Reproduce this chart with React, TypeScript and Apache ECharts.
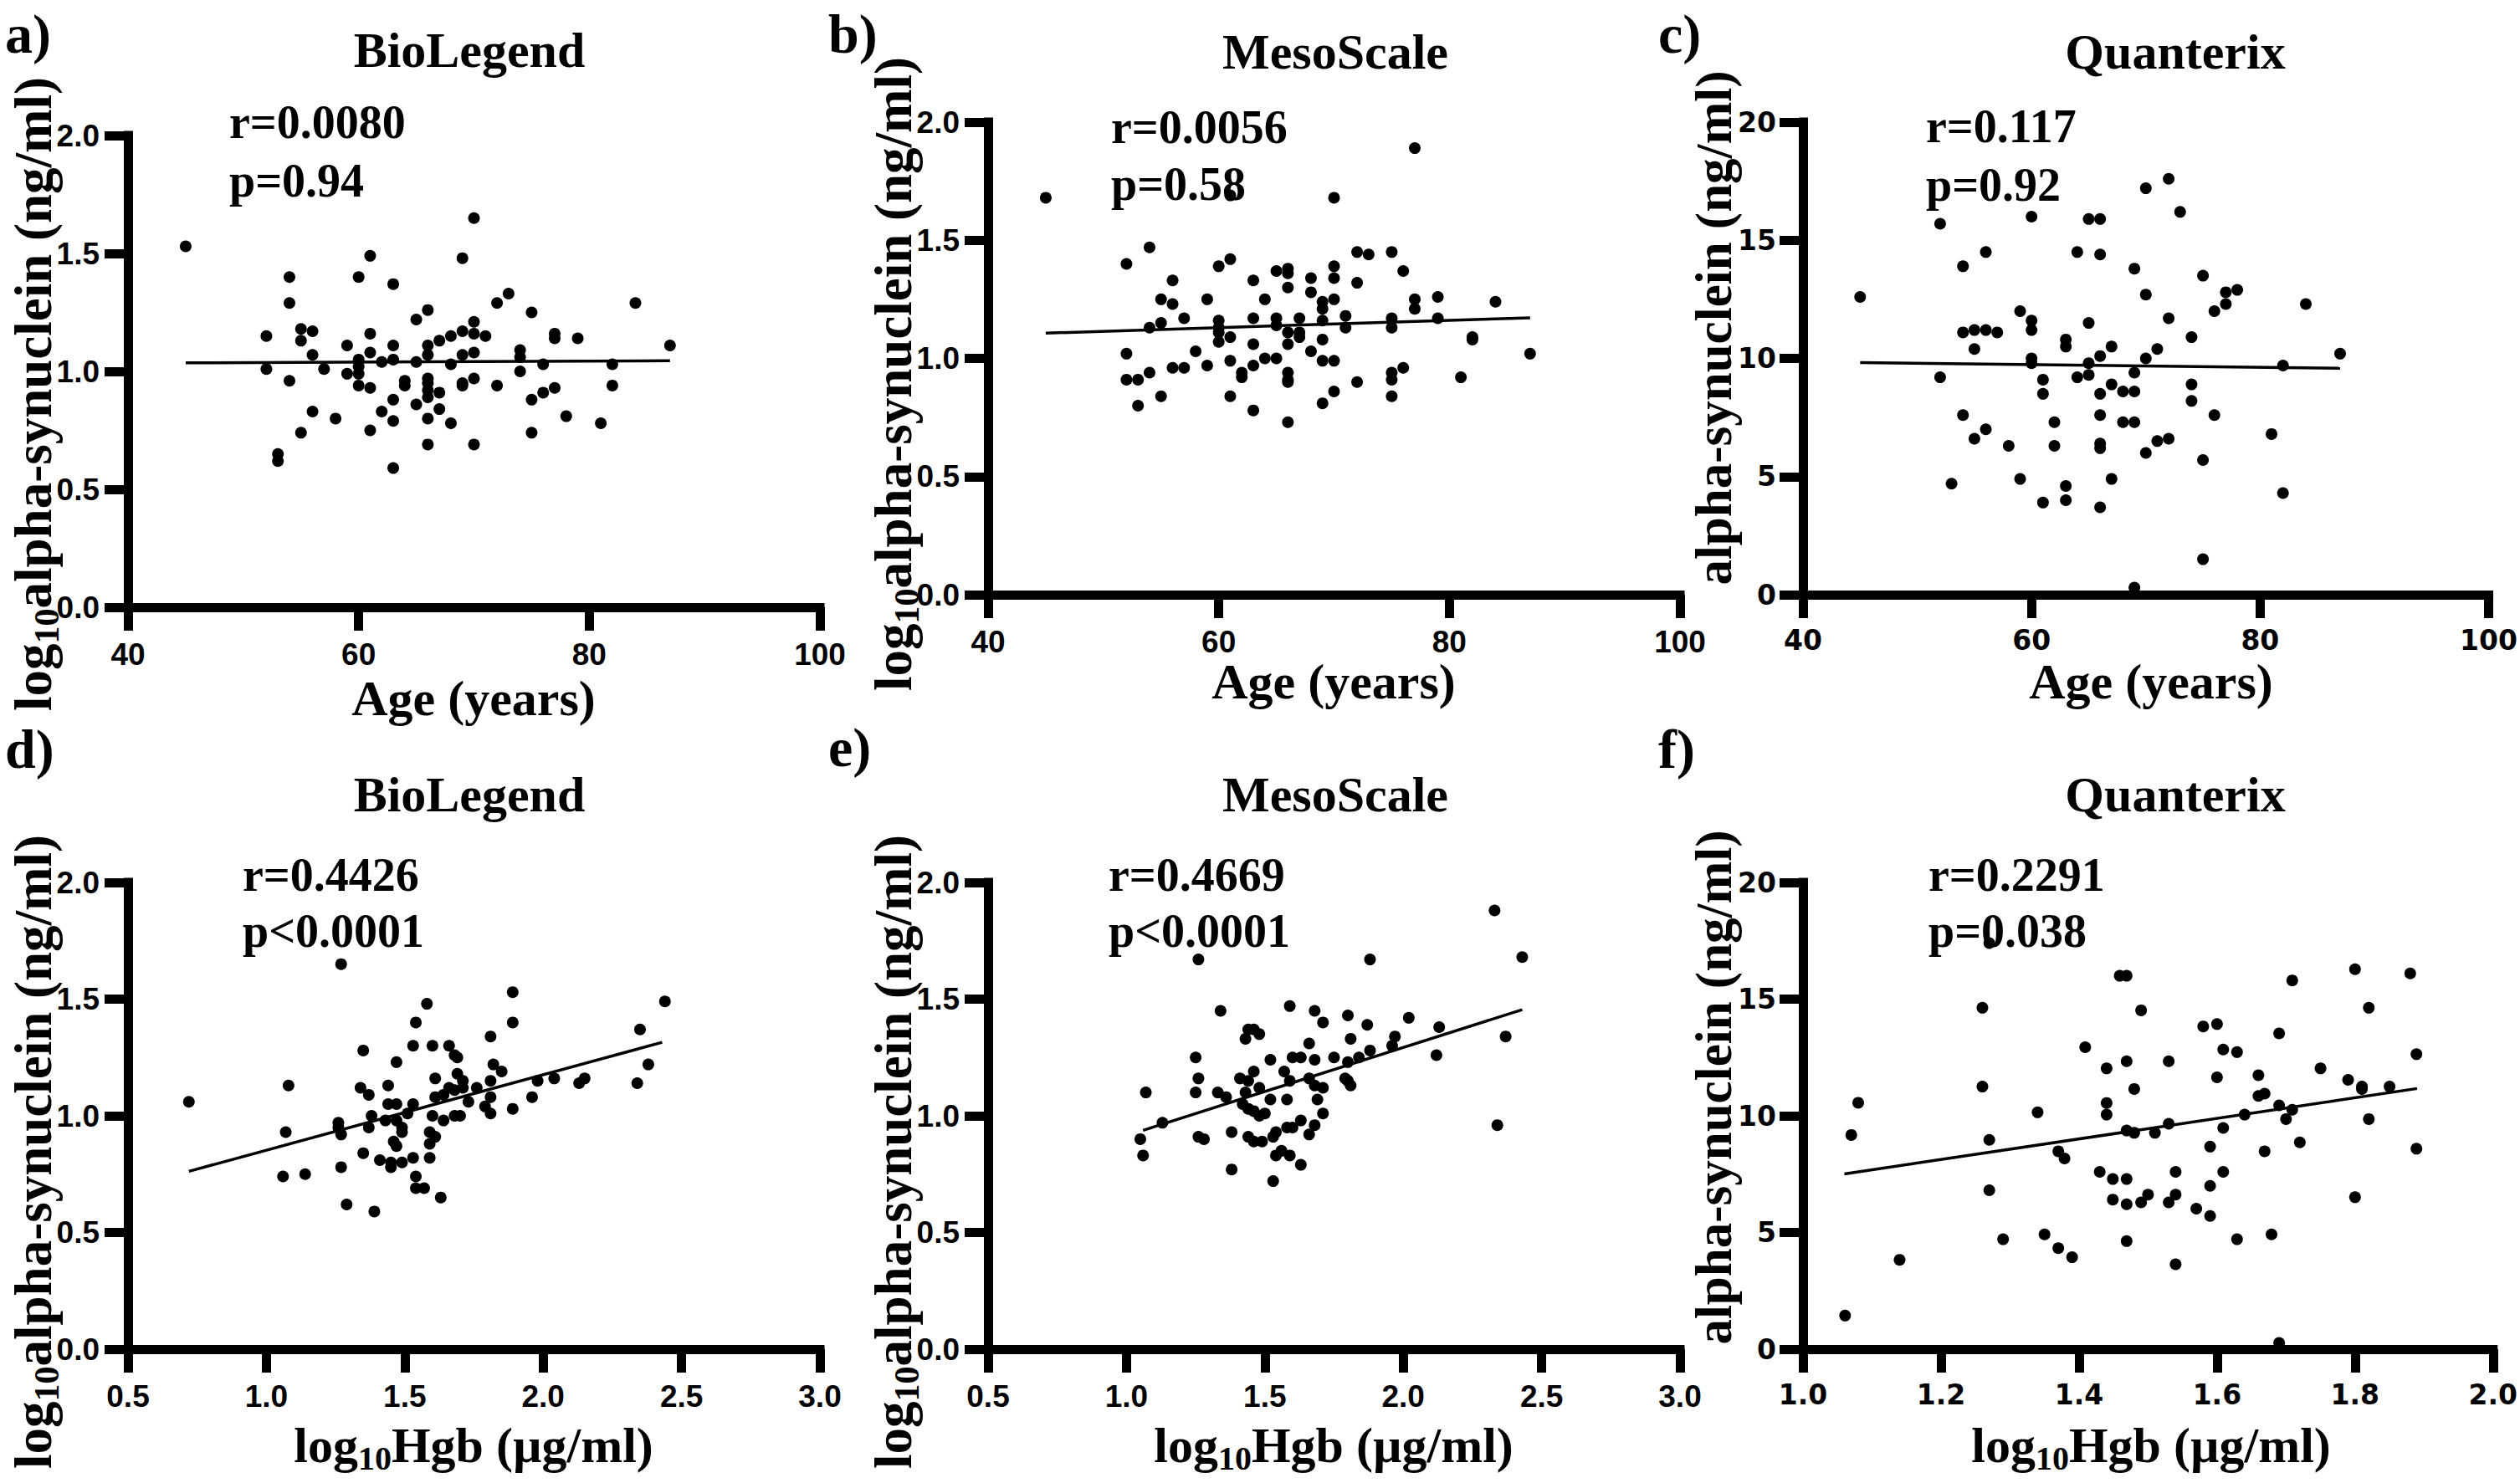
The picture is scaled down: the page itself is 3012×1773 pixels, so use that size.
import React, { useEffect, useRef } from "react";
import * as echarts from "echarts";

// ---------- DATA ----------
const assayTitles = ["BioLegend", "MesoScale", "Quanterix"];
const panelLetters = ["a)", "b)", "c)", "d)", "e)", "f)"];
const rTexts = ["r=0.0080", "r=0.0056", "r=0.117", "r=0.4426", "r=0.4669", "r=0.2291"];
const pTexts = ["p=0.94", "p=0.58", "p=0.92", "p<0.0001", "p<0.0001", "p=0.038"];

// a) BioLegend vs age
const ageA = [45,70,61,69,54,60,63,73,72,54,84,66,75,65,70,55,56,52,61,69,68,70,71,77,77,79,55,67,59,63,66,87,74,61,70,56,66,69,74,63,60,62,65,68,76,82,60,52,57,74,59,60,66,70,54,64,66,69,64,60,72,82,61,69,77,66,67,76,66,63,75,65,67,62,56,58,66,63,78,68,81,61,55,75,66,70,53,53,63];
const synA = [1.53,1.65,1.49,1.48,1.40,1.40,1.37,1.33,1.29,1.29,1.29,1.26,1.25,1.22,1.21,1.18,1.17,1.15,1.16,1.17,1.15,1.16,1.15,1.16,1.14,1.14,1.13,1.13,1.11,1.11,1.11,1.11,1.09,1.08,1.08,1.07,1.07,1.07,1.06,1.05,1.05,1.04,1.04,1.03,1.03,1.03,1.02,1.01,1.01,1.00,0.99,0.99,0.97,0.97,0.96,0.96,0.95,0.95,0.94,0.94,0.94,0.94,0.93,0.94,0.93,0.92,0.91,0.91,0.89,0.88,0.88,0.86,0.84,0.83,0.83,0.80,0.80,0.79,0.81,0.78,0.78,0.75,0.74,0.74,0.69,0.69,0.65,0.62,0.59];
const fitAx = [45, 87];
const fitAy = [1.036, 1.045];

// b) MesoScale vs age
const ageB = [45,77,70,61,54,52,60,61,72,73,75,56,63,65,66,66,68,70,70,76,66,72,68,55,56,59,64,69,70,77,79,84,69,77,71,55,57,60,63,65,67,69,75,79,54,60,65,71,75,60,66,67,60,61,67,69,82,82,63,66,52,58,68,87,64,65,61,69,70,56,57,59,63,62,76,54,66,75,52,53,62,66,66,75,81,72,70,55,61,75,53,69,63,66];
const synB = [1.68,1.89,1.68,1.69,1.47,1.40,1.39,1.42,1.45,1.44,1.45,1.33,1.33,1.37,1.38,1.36,1.34,1.39,1.34,1.37,1.30,1.32,1.28,1.25,1.23,1.25,1.25,1.24,1.25,1.25,1.26,1.24,1.21,1.21,1.18,1.15,1.17,1.16,1.17,1.17,1.17,1.16,1.17,1.17,1.13,1.13,1.14,1.13,1.13,1.11,1.11,1.11,1.07,1.09,1.09,1.08,1.09,1.08,1.06,1.06,1.02,1.03,1.03,1.02,1.00,1.00,0.99,0.99,0.99,0.96,0.96,0.97,0.97,0.94,0.96,0.94,0.94,0.94,0.91,0.91,0.92,0.91,0.90,0.91,0.92,0.90,0.86,0.84,0.84,0.84,0.80,0.81,0.78,0.73];
const fitBx = [45, 87];
const fitBy = [1.107, 1.172];

// c) Quanterix vs age
const ageC = [45,52,60,65,66,70,72,73,56,54,64,66,69,75,70,77,78,77,76,84,59,60,60,54,55,56,57,65,72,74,63,63,55,67,71,66,70,60,60,65,87,82,69,52,61,64,65,67,68,69,61,66,74,74,54,76,66,62,68,69,56,55,81,71,72,58,62,66,66,70,75,53,59,67,63,63,61,66,82,75,69];
const synC = [12.6,15.7,16.0,15.9,15.9,17.2,17.6,16.2,14.5,13.9,14.5,14.4,13.8,13.5,12.7,12.8,12.9,12.3,12.0,12.3,12.0,11.6,11.2,11.1,11.2,11.2,11.1,11.5,11.7,10.9,10.8,10.5,10.4,10.5,10.4,10.1,10.0,10.0,9.8,9.8,10.2,9.7,9.4,9.2,9.1,9.2,9.3,8.9,8.6,8.6,8.5,8.5,8.9,8.2,7.6,7.6,7.6,7.3,7.3,7.3,7.0,6.6,6.8,6.5,6.6,6.3,6.3,6.4,6.2,6.0,5.7,4.7,4.9,4.9,4.6,4.0,3.9,3.7,4.3,1.5,0.3];
const fitCx = [45, 87];
const fitCy = [9.82, 9.58];

// d) BioLegend vs log10 Hgb
const hgbD = [0.72,1.27,1.58,1.89,1.54,1.89,2.44,2.35,1.35,1.53,1.60,1.66,1.68,1.69,1.81,1.47,2.38,1.08,1.34,1.37,1.44,1.61,1.69,1.71,1.82,1.85,1.81,1.98,2.04,2.13,2.15,2.34,1.66,1.71,1.76,1.64,1.61,1.68,1.73,1.81,1.96,1.79,1.81,1.89,1.44,1.47,1.53,1.51,1.38,1.60,1.68,1.70,1.64,1.43,1.47,1.49,1.37,1.26,1.26,1.27,1.07,1.49,1.59,1.61,1.46,1.47,1.59,1.35,1.53,1.59,1.41,1.45,1.45,1.49,1.27,1.06,1.14,1.54,1.54,1.57,1.63,1.29,1.39];
const synD = [1.06,1.65,1.48,1.53,1.40,1.40,1.49,1.37,1.28,1.30,1.30,1.30,1.26,1.25,1.34,1.23,1.22,1.13,1.12,1.09,1.13,1.16,1.18,1.15,1.22,1.19,1.15,1.15,1.16,1.14,1.16,1.14,1.12,1.12,1.12,1.09,1.08,1.11,1.06,1.08,1.08,1.04,1.01,1.03,1.05,1.05,1.05,1.01,1.00,1.00,1.00,1.00,0.98,0.98,0.98,0.95,0.95,0.97,0.95,0.92,0.93,0.93,0.93,0.91,0.89,0.87,0.88,0.84,0.82,0.82,0.81,0.80,0.78,0.80,0.78,0.74,0.75,0.74,0.69,0.69,0.65,0.62,0.59];
const fitDx = [0.72, 2.43];
const fitDy = [0.762, 1.315];

// e) MesoScale vs log10 Hgb
const hgbE = [2.33,2.43,1.88,1.26,1.59,1.34,1.68,1.80,1.71,2.02,1.87,2.13,1.44,1.46,1.48,1.43,1.97,2.37,1.81,1.66,1.96,1.88,1.84,2.12,1.25,1.52,1.60,1.63,1.68,1.75,1.80,1.46,1.57,1.26,1.41,1.44,1.59,1.66,1.79,1.80,1.81,1.68,1.71,1.48,1.07,1.25,1.33,1.36,1.43,1.52,1.58,1.69,1.42,1.44,1.46,1.48,1.50,1.71,1.13,1.63,1.68,1.58,1.60,1.38,1.44,1.54,1.53,1.46,1.49,1.66,1.26,1.28,1.05,2.34,1.06,1.54,1.56,1.59,1.63,1.38,1.53];
const synE = [1.88,1.68,1.67,1.67,1.47,1.45,1.45,1.43,1.40,1.42,1.39,1.38,1.37,1.37,1.35,1.33,1.34,1.34,1.33,1.31,1.30,1.28,1.25,1.26,1.25,1.24,1.25,1.25,1.24,1.25,1.23,1.19,1.19,1.16,1.16,1.15,1.15,1.16,1.16,1.15,1.13,1.13,1.12,1.12,1.10,1.10,1.10,1.08,1.10,1.07,1.07,1.07,1.05,1.03,1.02,1.00,1.01,1.01,0.97,0.98,0.96,0.95,0.95,0.93,0.91,0.93,0.91,0.89,0.89,0.92,0.91,0.90,0.90,0.96,0.83,0.83,0.85,0.83,0.79,0.77,0.72];
const fitEx = [1.06, 2.43];
const fitEy = [0.938, 1.455];

// f) Quanterix vs log10 Hgb
const hgbF = [1.061,1.070,1.080,1.140,1.260,1.260,1.270,1.270,1.270,1.290,1.340,1.350,1.370,1.379,1.370,1.390,1.409,1.430,1.440,1.440,1.440,1.449,1.449,1.459,1.469,1.469,1.469,1.469,1.469,1.469,1.480,1.480,1.490,1.490,1.500,1.510,1.530,1.530,1.530,1.540,1.540,1.540,1.570,1.580,1.590,1.590,1.590,1.600,1.600,1.609,1.609,1.609,1.629,1.629,1.640,1.660,1.660,1.669,1.669,1.679,1.690,1.690,1.690,1.700,1.709,1.709,1.720,1.750,1.790,1.800,1.800,1.810,1.810,1.820,1.820,1.850,1.880,1.889,1.889];
const synF = [1.44,9.18,10.56,3.83,14.63,11.25,17.40,8.97,6.81,4.71,10.15,4.92,8.48,8.17,4.33,3.94,12.94,7.60,12.03,10.55,10.05,7.29,6.41,16.0,16.0,12.34,9.37,7.29,6.21,4.63,11.15,9.27,14.52,6.29,6.62,9.27,12.34,9.66,6.29,7.60,6.62,3.64,6.02,13.83,7.0,5.71,8.68,13.93,11.65,12.84,9.48,7.60,12.73,4.71,10.05,11.74,10.85,10.95,8.48,4.92,13.53,10.45,0.27,9.86,15.80,10.26,8.86,12.03,11.54,16.28,6.51,11.25,11.15,14.63,9.86,11.25,16.10,12.64,8.59];
const fitFx = [1.06, 1.89];
const fitFy = [7.51, 11.17];

// axis ranges [min, max, interval]
const ageRange = [40, 100, 20];
const hgbRangeWide = [0.5, 3.0, 0.5];
const hgbRangeNarrow = [1.0, 2.0, 0.2];
const logSynRange = [0, 2, 0.5];
const synRange = [0, 20, 5];

// ---------- LAYOUT / STYLE ----------
const INK = "#000000";
const SERIF = "'Liberation Serif', 'Times New Roman', serif";
const SANS = "'Liberation Sans', Arial, sans-serif";
const WIDE = "'DejaVu Sans', Verdana, sans-serif";

const f1 = (v: number) => v.toFixed(1);
const f0 = (v: number) => String(Math.round(v));

const panels = [
  { grid: { left: 153, top: 162, width: 827, height: 564 }, xr: ageRange, yr: logSynRange, xs: ageA, ys: synA, fx: fitAx, fy: fitAy, xf: f0, yf: f1, tf: SANS, ts: 37, lm: 34, logY: true, ageX: true,
    title: [561, 60], letter: [6, 40], rp: [274, 146, 216], yt: [40, 471], xt: [566, 835] },
  { grid: { left: 1181, top: 146, width: 827, height: 565 }, xr: ageRange, yr: logSynRange, xs: ageB, ys: synB, fx: fitBx, fy: fitBy, xf: f0, yf: f1, tf: SANS, ts: 37, lm: 34, logY: true, ageX: true,
    title: [1596, 62], letter: [990, 40], rp: [1328, 152, 220], yt: [1068, 447], xt: [1594, 815] },
  { grid: { left: 2155, top: 146, width: 833, height: 565 }, xr: ageRange, yr: synRange, xs: ageC, ys: synC, fx: fitCx, fy: fitCy, xf: f0, yf: f0, tf: WIDE, ts: 33, lm: 32, logY: false, ageX: true,
    title: [2600, 62], letter: [1982, 40], rp: [2302, 151, 221], yt: [2048, 392], xt: [2571, 815] },
  { grid: { left: 153, top: 1055, width: 827, height: 558 }, xr: hgbRangeWide, yr: logSynRange, xs: hgbD, ys: synD, fx: fitDx, fy: fitDy, xf: f1, yf: f1, tf: SANS, ts: 37, lm: 34, logY: true, ageX: false,
    title: [561, 950], letter: [6, 895], rp: [290, 1046, 1113], yt: [40, 1377], xt: [566, 1728] },
  { grid: { left: 1181, top: 1055, width: 827, height: 558 }, xr: hgbRangeWide, yr: logSynRange, xs: hgbE, ys: synE, fx: fitEx, fy: fitEy, xf: f1, yf: f1, tf: SANS, ts: 37, lm: 34, logY: true, ageX: false,
    title: [1596, 950], letter: [990, 893], rp: [1325, 1046, 1113], yt: [1068, 1377], xt: [1594, 1728] },
  { grid: { left: 2155, top: 1055, width: 835, height: 558 }, xr: hgbRangeNarrow, yr: synRange, xs: hgbF, ys: synF, fx: fitFx, fy: fitFy, xf: f1, yf: f0, tf: WIDE, ts: 33, lm: 32, logY: false, ageX: false,
    title: [2600, 950], letter: [1982, 895], rp: [2305, 1046, 1113], yt: [2048, 1300], xt: [2571, 1728] },
];

const mainRich = (size: number) => ({ fontSize: size, fontFamily: SERIF, fontWeight: "bold", fill: INK, lineHeight: size + 10 });
const subRich = (size: number) => ({ fontSize: size, fontFamily: SERIF, fontWeight: "bold", fill: INK, lineHeight: Math.round(size * 0.72), verticalAlign: "bottom" });

function buildOption() {
  const grid: any[] = [];
  const xAxis: any[] = [];
  const yAxis: any[] = [];
  const series: any[] = [];
  const graphic: any[] = [];

  panels.forEach((p, i) => {
    grid.push({ ...p.grid, containLabel: false });
    const mkLine = () => ({ show: true, onZero: false, lineStyle: { color: INK, width: 11, cap: "square" } });
    const mkTick = () => ({ show: true, inside: false, length: 28, lineStyle: { color: INK, width: 11 } });
    xAxis.push({
      type: "value", gridIndex: i, splitLine: { show: false },
      axisLine: mkLine(), axisTick: mkTick(),
      min: p.xr[0], max: p.xr[1], interval: p.xr[2],
      axisLabel: { margin: 38, color: INK, fontFamily: p.tf, fontSize: p.ts, fontWeight: "bold", formatter: p.xf, showMinLabel: true, showMaxLabel: true },
    });
    yAxis.push({
      type: "value", gridIndex: i, splitLine: { show: false },
      axisLine: mkLine(), axisTick: mkTick(),
      min: p.yr[0], max: p.yr[1], interval: p.yr[2],
      axisLabel: { margin: p.lm, color: INK, fontFamily: p.tf, fontSize: p.ts, fontWeight: "bold", formatter: p.yf, showMinLabel: true, showMaxLabel: true },
    });
    series.push({
      type: "scatter",
      xAxisIndex: i, yAxisIndex: i,
      symbol: "circle", symbolSize: 14,
      itemStyle: { color: INK, opacity: 1 },
      data: p.xs.map((x, j) => [x, p.ys[j]]),
      z: 3,
    });
    series.push({
      type: "line",
      xAxisIndex: i, yAxisIndex: i,
      showSymbol: false, symbol: "none",
      lineStyle: { color: INK, width: 3.5 },
      data: p.fx.map((x, j) => [x, p.fy[j]]),
      z: 4,
    });

    graphic.push({
      type: "text", x: p.title[0], y: p.title[1], z: 10,
      style: { text: assayTitles[i % 3], font: `bold 60px ${SERIF}`, fill: INK, align: "center", verticalAlign: "middle" },
    });
    graphic.push({
      type: "text", x: p.letter[0], y: p.letter[1], z: 10,
      style: { text: panelLetters[i], font: `bold 66px ${SERIF}`, fill: INK, align: "left", verticalAlign: "middle" },
    });
    graphic.push({
      type: "text", x: p.rp[0], y: p.rp[1], z: 10,
      style: { text: rTexts[i], font: `bold 56px ${SERIF}`, fill: INK, align: "left", verticalAlign: "middle" },
    });
    graphic.push({
      type: "text", x: p.rp[0], y: p.rp[2], z: 10,
      style: { text: pTexts[i], font: `bold 56px ${SERIF}`, fill: INK, align: "left", verticalAlign: "middle" },
    });
    const yText = p.logY ? "{m|log}{s|10}{m|alpha-synuclein (ng/ml)}" : "{m|alpha-synuclein (ng/ml)}";
    const ySize = p.logY ? 63 : 61;
    graphic.push({
      type: "text", x: p.yt[0], y: p.yt[1], rotation: Math.PI / 2, z: 10,
      style: { text: yText, rich: { m: mainRich(ySize), s: subRich(42) }, fill: INK, align: "center", verticalAlign: "middle" },
    });
    const xText = p.ageX ? "{m|Age (years)}" : "{m|log}{s|10}{m|Hgb (µg/ml)}";
    graphic.push({
      type: "text", x: p.xt[0], y: p.xt[1], z: 10,
      style: { text: xText, rich: { m: mainRich(60), s: subRich(40) }, fill: INK, align: "center", verticalAlign: "middle" },
    });
  });

  return { animation: false, backgroundColor: "#ffffff", grid, xAxis, yAxis, series, graphic };
}

export default function App() {
  const ref = useRef<HTMLDivElement>(null);
  useEffect(() => {
    if (!ref.current) return;
    const chart = echarts.init(ref.current, undefined, { renderer: "svg" });
    chart.setOption(buildOption() as any);
    return () => chart.dispose();
  }, []);
  return (
    <div
      ref={ref}
      style={{ position: "absolute", left: 0, top: 0, width: 3012, height: 1773, background: "#ffffff" }}
    />
  );
}
